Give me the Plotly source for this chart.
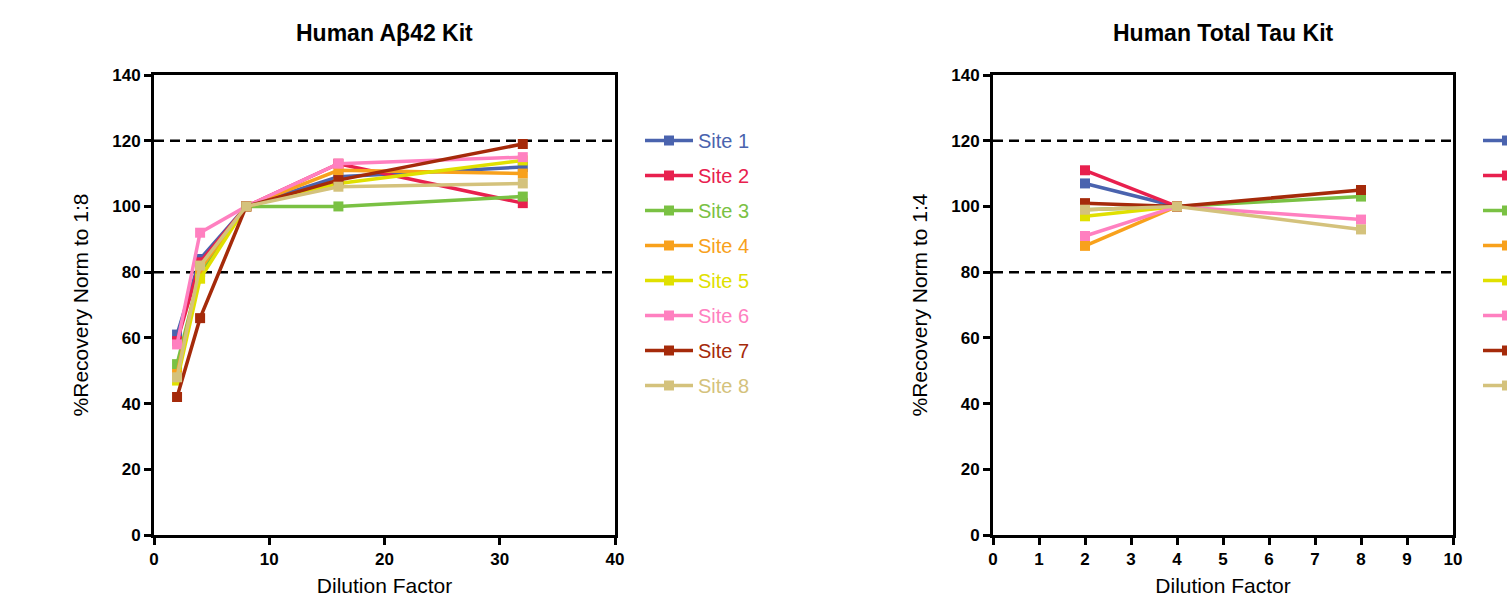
import plotly.graph_objects as go

sites = ["Site 1", "Site 2", "Site 3", "Site 4", "Site 5", "Site 6", "Site 7", "Site 8"]
colors = ["#4A63AE", "#E8204E", "#7AC143", "#F8A11C", "#E0E000", "#FF80C0", "#A52A0A", "#D4C27C"]

# Left panel: Human Abeta42 Kit
abeta_x = [2, 4, 8, 16, 32]
abeta_y = {
    "Site 1": [61, 84, 100, 109, 112],
    "Site 2": [59, 83, 100, 113, 101],
    "Site 3": [52, 80, 100, 100, 103],
    "Site 4": [49, 81, 100, 111, 110],
    "Site 5": [47, 78, 100, 107, 114],
    "Site 6": [58, 92, 100, 113, 115],
    "Site 7": [42, 66, 100, 108, 119],
    "Site 8": [48, 82, 100, 106, 107],
}

# Right panel: Human Total Tau Kit
tau_x = [2, 4, 8]
tau_y = {
    "Site 1": [107, 100, None],
    "Site 2": [111, 100, None],
    "Site 3": [99, 100, 103],
    "Site 4": [88, 100, None],
    "Site 5": [97, 100, None],
    "Site 6": [91, 100, 96],
    "Site 7": [101, 100, 105],
    "Site 8": [99, 100, 93],
}

W, H = 1507, 601
FONT = "Liberation Sans, Arial, sans-serif"

fig = go.Figure()
for i, s in enumerate(sites):
    c = colors[i]
    fig.add_trace(go.Scatter(
        x=abeta_x, y=abeta_y[s], mode="lines+markers",
        name=f'<span style="color:{c}">{s}</span>',
        line=dict(color=c, width=3.5), marker=dict(symbol="square", size=10, color=c),
        xaxis="x", yaxis="y", legend="legend", legendgroup=f"a{i}",
    ))
for i, s in enumerate(sites):
    c = colors[i]
    fig.add_trace(go.Scatter(
        x=tau_x, y=tau_y[s], mode="lines+markers",
        name=f'<span style="color:{c}">{s}</span>',
        line=dict(color=c, width=3.5), marker=dict(symbol="square", size=10, color=c),
        xaxis="x2", yaxis="y2", legend="legend2", legendgroup=f"b{i}",
    ))

yb = (H - 535) / H
yt = (H - 75) / H
ld = [154 / W, 615 / W]
rd = [993 / W, 1453 / W]

axis_common = dict(
    showline=True, linecolor="black", linewidth=3, mirror=True,
    ticks="outside", ticklen=7, tickwidth=3, tickcolor="black",
    showgrid=False, zeroline=False,
    tickfont=dict(family=FONT, size=17, color="black", weight="bold"),
    title_font=dict(family=FONT, size=21, color="black"),
    automargin=False,
)

fig.update_layout(
    width=W, height=H,
    margin=dict(l=0, r=0, t=0, b=0, autoexpand=False),
    plot_bgcolor="white", paper_bgcolor="white",
    xaxis=dict(domain=ld, range=[0, 40], tickvals=[0, 10, 20, 30, 40],
               title=dict(text="Dilution Factor", standoff=10), anchor="y", **axis_common),
    yaxis=dict(domain=[yb, yt], range=[0, 140], tickvals=list(range(0, 141, 20)),
               title=dict(text="%Recovery Norm to 1:8", standoff=18), anchor="x", **axis_common),
    xaxis2=dict(domain=rd, range=[0, 10], tickvals=list(range(0, 11)),
                title=dict(text="Dilution Factor", standoff=10), anchor="y2", **axis_common),
    yaxis2=dict(domain=[yb, yt], range=[0, 140], tickvals=list(range(0, 141, 20)),
                title=dict(text="%Recovery Norm to 1:4", standoff=18), anchor="x2", **axis_common),
    legend=dict(x=640 / W, y=(H - 121) / H, xanchor="left", yanchor="top",
                font=dict(family=FONT, size=20), tracegroupgap=6, itemwidth=48,
                bgcolor="rgba(0,0,0,0)"),
    legend2=dict(x=1478 / W, y=(H - 121) / H, xanchor="left", yanchor="top",
                 font=dict(family=FONT, size=20), tracegroupgap=6, itemwidth=48,
                 bgcolor="rgba(0,0,0,0)"),
    annotations=[
        dict(text="<b>Human Aβ42 Kit</b>", x=(ld[0] + ld[1]) / 2, y=(H - 33) / H,
             xref="paper", yref="paper", xanchor="center", yanchor="middle", showarrow=False,
             font=dict(family=FONT, size=23, color="black")),
        dict(text="<b>Human Total Tau Kit</b>", x=(rd[0] + rd[1]) / 2, y=(H - 33) / H,
             xref="paper", yref="paper", xanchor="center", yanchor="middle", showarrow=False,
             font=dict(family=FONT, size=23, color="black")),
    ],
)

for xr, yr, xmax in [("x", "y", 40), ("x2", "y2", 10)]:
    for yv in [80, 120]:
        fig.add_shape(type="line", xref=xr, yref=yr, x0=0, x1=xmax, y0=yv, y1=yv,
                      line=dict(color="black", width=2.5, dash="10px,6px"), layer="below")

fig.write_html("out.html")
